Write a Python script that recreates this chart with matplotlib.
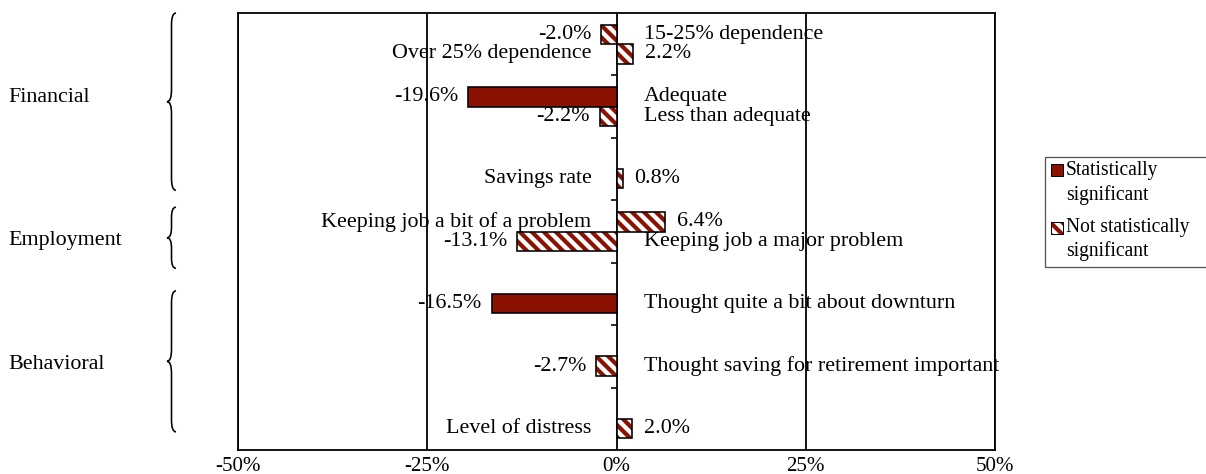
import numpy as np
import matplotlib
matplotlib.use("Agg")
import matplotlib.pyplot as plt
from matplotlib.path import Path
from matplotlib.patches import PathPatch, Rectangle

# drawn at 72 dpi so that one point is one pixel and the hatch spacing is about 12 px
plt.rcParams['font.family'] = ['Liberation Serif', 'DejaVu Serif']
plt.rcParams['hatch.linewidth'] = 4.2

# data
bar_labels = ['15-25% dependence', 'Over 25% dependence', 'Adequate', 'Less than adequate',
              'Savings rate', 'Keeping job a bit of a problem', 'Keeping job a major problem',
              'Thought quite a bit about downturn', 'Thought saving for retirement important',
              'Level of distress']
bar_values = [-2.0, 2.2, -19.6, -2.2, 0.8, 6.4, -13.1, -16.5, -2.7, 2.0]
significant = [False, False, True, False, False, False, False, True, False, False]
bar_category = [0, 0, 1, 1, 2, 3, 3, 4, 5, 6]   # row group on the chart
bar_series = [0, 1, 0, 1, 1, 0, 1, 1, 1, 1]     # first or second bar in the row
n_categories = 7

groups = ['Financial', 'Employment', 'Behavioral']
group_spans = [(0, 2), (3, 3), (4, 6)]           # first and last row of each group

x_ticks = [-50, -25, 0, 25, 50]
x_tick_labels = ['-50%', '-25%', '0%', '25%', '50%']

legend_labels = ['Statistically\nsignificant', 'Not statistically\nsignificant']

red = '#8B1200'
hatch = '\\\\'
bar_h = 0.31
W, H = 1206, 474

fig = plt.figure(figsize=(W / 72, H / 72), dpi=72)
ax = fig.add_axes([238 / W, 24 / H, 757 / W, 437 / H])

ypos = [c + (s - 0.5) * bar_h for c, s in zip(bar_category, bar_series)]

for y, v, sig in zip(ypos, bar_values, significant):
    if sig:
        ax.barh(y, v, height=bar_h, color=red, edgecolor='black', linewidth=1.6, zorder=3)
    else:
        ax.barh(y, v, height=bar_h, color='white', edgecolor=red, hatch=hatch,
                linewidth=0, zorder=3)
        ax.barh(y, v, height=bar_h, color='none', edgecolor='black', linewidth=1.6, zorder=4)

# value labels at the bar end, category labels on the other side of zero
fs = 22
for y, v, name in zip(ypos, bar_values, bar_labels):
    if v < 0:
        ax.annotate(f'{v:.1f}%', (v, y), xytext=(-10, 0), textcoords='offset pixels',
                    ha='right', va='center', fontsize=fs)
        ax.annotate(name, (0, y), xytext=(27, 0), textcoords='offset pixels',
                    ha='left', va='center', fontsize=fs)
    else:
        ax.annotate(f'{v:.1f}%', (v, y), xytext=(12, 0), textcoords='offset pixels',
                    ha='left', va='center', fontsize=fs)
        ax.annotate(name, (0, y), xytext=(-25, 0), textcoords='offset pixels',
                    ha='right', va='center', fontsize=fs)

ax.set_xlim(-50, 50)
ax.set_ylim(n_categories - 0.5, -0.5)
ax.set_xticks(x_ticks)
ax.set_xticklabels(x_tick_labels, fontsize=21)
ax.tick_params(axis='x', length=0, pad=7)
ax.set_yticks([])
ax.xaxis.grid(True, color='black', linewidth=1.8)
ax.set_axisbelow(True)
for sp in ax.spines.values():
    sp.set_linewidth(1.8)

# small category ticks on the zero line
bounds = np.arange(n_categories - 1) + 0.5
ax.plot(np.zeros(len(bounds)), bounds, ls='none', marker=0, ms=6, mew=1.6,
        color='black', zorder=5, clip_on=False)

# overlay in figure pixels for the braces and the legend
fig.canvas.draw()
over = fig.add_axes([0, 0, 1, 1], facecolor='none')
over.set_xlim(0, W)
over.set_ylim(H, 0)
over.axis('off')


def to_pix(yval):
    return H - ax.transData.transform((0, yval))[1]


margins = [(0.0, 0.16), (0.11, -0.09), (0.45, 0.29)]
label_nudge = [-4, 3, 3]
for name, (a, b), (mt, mb), dy in zip(groups, group_spans, margins, label_nudge):
    yt = to_pix(a - 0.5 + mt)
    yb = to_pix(b + 0.5 - mb)
    ym = (yt + yb) / 2
    xe, xs, xt = 176, 171.5, 167
    r = min(12, (yb - yt) / 6)
    verts = [(xe, yt), (xs, yt), (xs, yt + r),
             (xs, ym - r),
             (xs, ym), (xt, ym),
             (xs, ym), (xs, ym + r),
             (xs, yb - r),
             (xs, yb), (xe, yb)]
    codes = [Path.MOVETO, Path.CURVE3, Path.CURVE3,
             Path.LINETO,
             Path.CURVE3, Path.CURVE3,
             Path.CURVE3, Path.CURVE3,
             Path.LINETO,
             Path.CURVE3, Path.CURVE3]
    over.add_patch(PathPatch(Path(verts, codes), facecolor='none', edgecolor='black', lw=1.6))
    over.text(8, ym + dy, name, ha='left', va='center', fontsize=fs)

# legend box, partly cut by the right edge as in the original
over.add_patch(Rectangle((1045, 157), 200, 110, facecolor='white', edgecolor='#555555',
                         lw=1.3, clip_on=False))
over.add_patch(Rectangle((1051, 164), 12, 12, facecolor=red, edgecolor='black', lw=1.0))
over.add_patch(Rectangle((1051, 222), 12, 12, facecolor='white', edgecolor=red,
                         hatch=hatch, lw=0))
over.add_patch(Rectangle((1051, 222), 12, 12, facecolor='none', edgecolor='black', lw=1.0))
line_y = [[171, 195], [227, 251]]
for lab, ys in zip(legend_labels, line_y):
    for part, yy in zip(lab.split('\n'), ys):
        over.text(1066, yy, part, ha='left', va='center', fontsize=19.5)

fig.savefig('out.png', dpi=72)
